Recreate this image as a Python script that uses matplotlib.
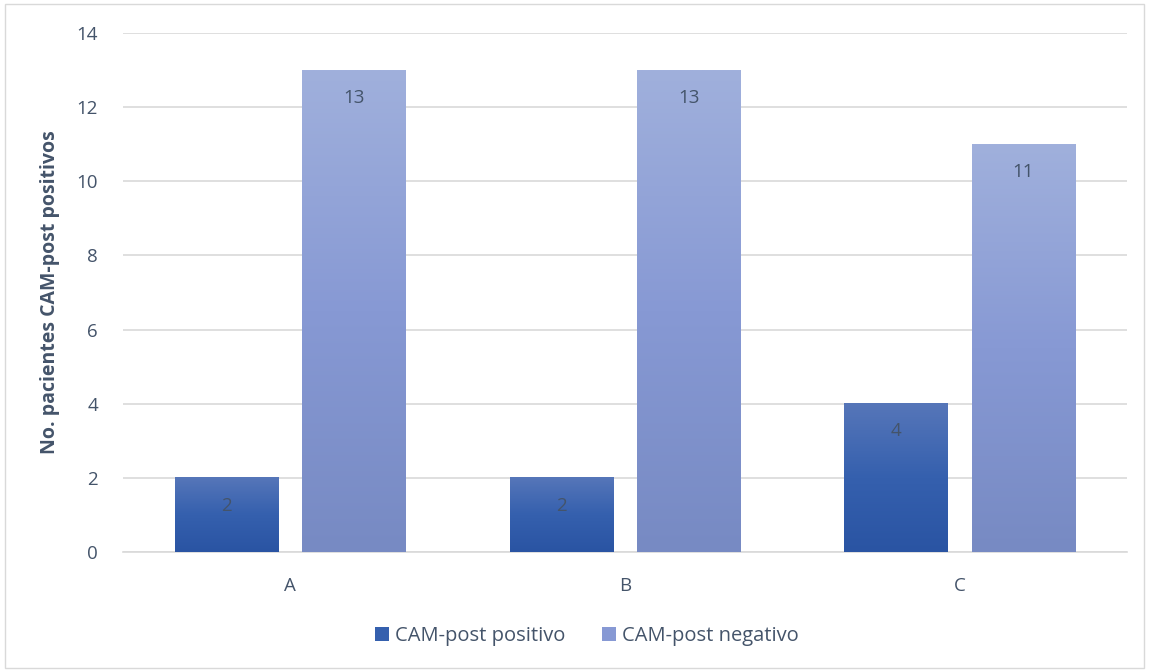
import numpy as np
import matplotlib
matplotlib.use('Agg')
import matplotlib.pyplot as plt
from matplotlib.colors import LinearSegmentedColormap
from matplotlib.patches import Rectangle, Patch

plt.rcParams['font.family'] = ['Open Sans', 'DejaVu Sans']

categories = ['A', 'B', 'C']
positivo = [2, 2, 4]
negativo = [13, 13, 11]
series_names = ['CAM-post positivo', 'CAM-post negativo']

text_col = '#44546A'
grid_col = '#D9D9D9'

# top -> bottom colours of each series gradient
grad_pos = ['#5676B9', '#3560AE', '#2A54A3']
grad_neg = ['#A0B0DC', '#8799D4', '#778AC3']

fig = plt.figure(figsize=(11.49, 6.72), dpi=100)
ax = fig.add_axes([0.107, 0.1786, 0.874, 0.7724])

width = 0.31
offset = 0.19
x = np.arange(len(categories))


def gradient_bars(xs, vals, cols):
    cmap = LinearSegmentedColormap.from_list('g', cols[::-1])
    grad = np.linspace(0, 1, 256).reshape(-1, 1)
    bars = ax.bar(xs, vals, width, color='none', zorder=3)
    for b in bars:
        x0, y0 = b.get_x(), b.get_y()
        w, h = b.get_width(), b.get_height()
        ax.imshow(grad, cmap=cmap, origin='lower', aspect='auto',
                  extent=[x0, x0 + w, y0, y0 + h], zorder=3)
    for xi, v in zip(xs, vals):
        ax.text(xi, v - 0.75, str(v), ha='center', va='center',
                fontsize=13.5, color=text_col, zorder=4)


gradient_bars(x - offset, positivo, grad_pos)
gradient_bars(x + offset, negativo, grad_neg)

ax.set_xlim(-0.5, 2.5)
ax.set_ylim(0, 14)
ax.set_yticks(range(0, 15, 2))
ax.set_xticks(x)
ax.set_xticklabels(categories)
ax.yaxis.grid(True, color=grid_col, linewidth=1.2, zorder=0)
ax.set_axisbelow(True)
for s in ['top', 'right', 'left']:
    ax.spines[s].set_visible(False)
ax.spines['bottom'].set_color(grid_col)
ax.spines['bottom'].set_linewidth(1.2)
ax.tick_params(axis='both', length=0, labelsize=13.5, colors=text_col)
ax.tick_params(axis='x', pad=18)
ax.tick_params(axis='y', pad=18)
ax.set_ylabel('No. pacientes CAM-post positivos', fontsize=14,
              fontweight='bold', color=text_col, labelpad=12)

handles = [Patch(facecolor=grad_pos[1]), Patch(facecolor=grad_neg[1])]
fig.legend(handles, series_names, loc='center', bbox_to_anchor=(0.511, 0.054),
           ncol=2, frameon=False, fontsize=14.5, labelcolor=text_col,
           handlelength=0.7, handleheight=0.7, handletextpad=0.3,
           columnspacing=1.8)

fig.patches.append(Rectangle((0.004, 0.006), 0.992, 0.988, transform=fig.transFigure,
                             fill=False, edgecolor='#D9D9D9', linewidth=1))

fig.savefig('out.png', dpi=100)
